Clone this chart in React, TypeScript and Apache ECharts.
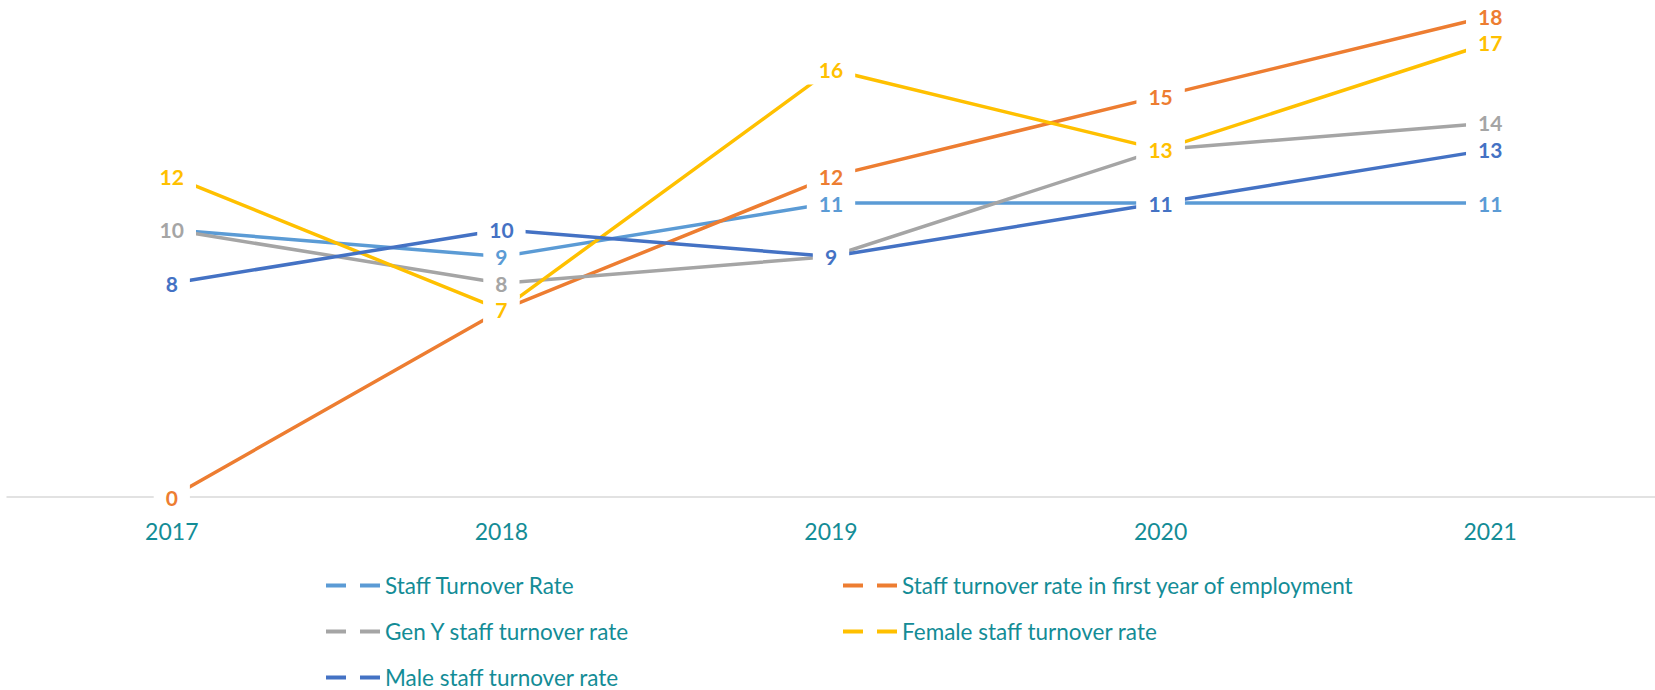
import React, { useEffect, useRef } from "react";
import * as echarts from "echarts";

const years = ["2017", "2018", "2019", "2020", "2021"];
const staffTurnover = [10, 9, 11, 11, 11];
const firstYearTurnover = [0, 7, 12, 15, 18];
const genYTurnover = [10, 8, 9, 13, 14];
const femaleTurnover = [12, 7, 16, 13, 17];
const maleTurnover = [8, 10, 9, 11, 13];

const seriesNames = [
  "Staff Turnover Rate",
  "Staff turnover rate in first year of employment",
  "Gen Y staff turnover rate",
  "Female staff turnover rate",
  "Male staff turnover rate",
];
const seriesColors = ["#5B9BD5", "#ED7D31", "#A5A5A5", "#FFC000", "#4472C4"];
const seriesData = [staffTurnover, firstYearTurnover, genYTurnover, femaleTurnover, maleTurnover];

const TEAL = "#138C96";
const FONT = "Lato, 'Open Sans', sans-serif";
const DASH_ICON = "path://M0,0H20V4H0Z M34,0H54V4H34Z";

export default function App() {
  const ref = useRef<HTMLDivElement>(null);
  useEffect(() => {
    if (!ref.current) return;
    const chart = echarts.init(ref.current, null, { renderer: "svg" });
    const lineSeries = seriesNames.map((name, i) => ({
      name,
      type: "line",
      data: seriesData[i],
      showSymbol: false,
      symbol: "none",
      z: 2,
      lineStyle: { color: seriesColors[i], width: 3.5, cap: "butt" },
      itemStyle: { color: seriesColors[i] },
    }));
    const labelSeries = seriesNames.map((name, i) => ({
      name: "lbl_" + i,
      type: "scatter",
      data: seriesData[i],
      symbol: "circle",
      symbolSize: 1,
      z: 5,
      itemStyle: { color: "rgba(0,0,0,0)", opacity: 1 },
      label: {
        show: true,
        position: "inside",
        formatter: (p: any) => String(p.value),
        color: seriesColors[i],
        opacity: 1,
        fontFamily: FONT,
        fontWeight: "bold",
        fontSize: 21,
        lineHeight: 22,
        backgroundColor: "#ffffff",
        padding: [4, 12],
      },
      emphasis: { disabled: true },
      silent: true,
    }));
    const legendCommon = {
      orient: "vertical",
      icon: DASH_ICON,
      itemWidth: 54,
      itemHeight: 4,
      itemGap: 21,
      padding: 0,
      top: 573,
      textStyle: { color: TEAL, fontFamily: FONT, fontSize: 22.5, lineHeight: 25 },
    };
    chart.setOption({
      animation: false,
      backgroundColor: "#ffffff",
      grid: { left: 7, top: 16, width: 1657, height: 481, containLabel: false },
      legend: [
        { ...legendCommon, left: 326, data: [seriesNames[0], seriesNames[2], seriesNames[4]] },
        { ...legendCommon, left: 843, data: [seriesNames[1], seriesNames[3]] },
      ],
      xAxis: {
        type: "category",
        data: years,
        boundaryGap: true,
        axisLine: { show: true, lineStyle: { color: "#D9D9D9", width: 1.5 } },
        axisTick: { show: false },
        axisLabel: { color: TEAL, fontFamily: FONT, fontSize: 23, lineHeight: 26, margin: 21 },
        splitLine: { show: false },
      },
      yAxis: {
        type: "value",
        min: 0,
        max: 18,
        show: false,
        splitLine: { show: false },
      },
      series: [...lineSeries, ...labelSeries],
    });
    return () => chart.dispose();
  }, []);
  return (
    <div
      ref={ref}
      style={{ position: "fixed", left: 0, top: 0, width: 1655, height: 690, background: "#fff" }}
    />
  );
}
